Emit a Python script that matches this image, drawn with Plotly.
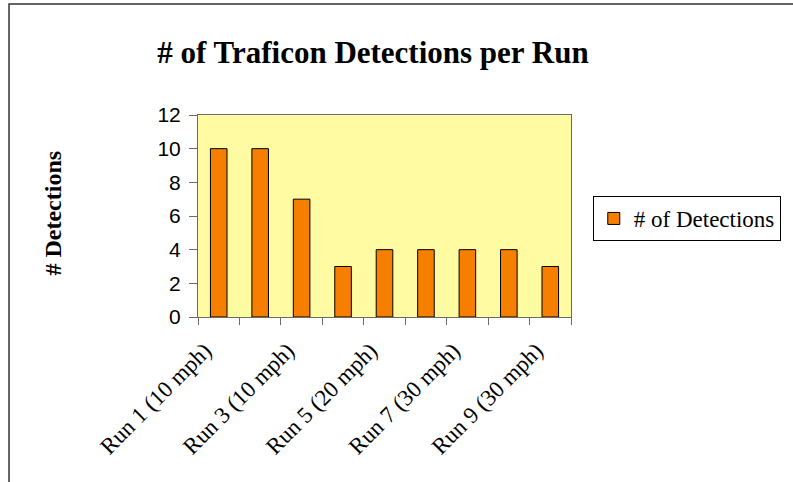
import plotly.graph_objects as go

categories = ["Run 1 (10 mph)", "Run 2 (10 mph)", "Run 3 (10 mph)",
              "Run 4 (20 mph)", "Run 5 (20 mph)", "Run 6 (20 mph)",
              "Run 7 (30 mph)", "Run 8 (30 mph)", "Run 9 (30 mph)"]
detections = [10, 10, 7, 3, 4, 4, 4, 4, 3]
tick_labels = [c if i % 2 == 0 else "" for i, c in enumerate(categories)]
y_ticks = [0, 2, 4, 6, 8, 10, 12]

W, H = 793, 482
L, R, T, B = 198, 575, 115, 317

fig = go.Figure()
fig.add_trace(go.Bar(
    x=categories, y=detections, name="# of Detections",
    marker=dict(color="#F77F00", line=dict(color="#000000", width=1)),
))

fig.update_layout(
    width=W, height=H,
    margin=dict(l=L, r=W - R, t=T, b=H - B, pad=0),
    paper_bgcolor="white", plot_bgcolor="#FEFBA2",
    bargap=0.6,
    showlegend=True,
    legend=dict(x=(597 - L) / (R - L), y=(B - 196) / (B - T), xanchor="left", yanchor="top",
                bordercolor="#000000", borderwidth=1, bgcolor="white",
                font=dict(family="Liberation Serif", size=23, color="black"),
                itemwidth=30, tracegroupgap=0),
    title=dict(text="<b># of Traficon Detections per Run</b>", x=373 / W, xanchor="center",
               y=1 - 52 / H, yanchor="middle",
               font=dict(family="Liberation Serif", size=31, color="black")),
    xaxis=dict(type="category", tickvals=categories, ticktext=tick_labels,
               tickangle=-45, tickson="boundaries", ticks="outside", ticklen=7,
               tickcolor="#6a6a6a", showline=True, linecolor="#6a6a6a", linewidth=1,
               mirror=True, showgrid=False, ticklabelshift=-14, ticklabelstandoff=10,
               tickfont=dict(family="Liberation Serif", size=23, color="black")),
    yaxis=dict(range=[0, 12], tickvals=y_ticks, ticks="outside", ticklen=8,
               tickcolor="#6a6a6a", showline=True, linecolor="#6a6a6a", linewidth=1,
               mirror=True, showgrid=False, zeroline=False, ticklabelstandoff=4,
               tickfont=dict(family="Arial, Liberation Sans", size=21, color="black")),
    annotations=[dict(text="<b># Detections</b>", textangle=-90, xref="paper", yref="paper",
                      x=(51 - L) / (R - L), y=(B - 213) / (B - T), xanchor="center", yanchor="middle",
                      showarrow=False,
                      font=dict(family="Liberation Serif", size=24, color="black"))],
    shapes=[dict(type="rect", xref="paper", yref="paper",
                 x0=(7 - L) / (R - L), x1=(W + 20 - L) / (R - L),
                 y0=(B - (H + 20)) / (B - T), y1=(B - 4) / (B - T),
                 line=dict(color="#333333", width=1.5), fillcolor="rgba(0,0,0,0)", layer="below")],
)

fig.write_html("out.html", config={"displayModeBar": False},
               post_script="document.body.style.margin='0px';document.body.style.overflow='hidden';")
